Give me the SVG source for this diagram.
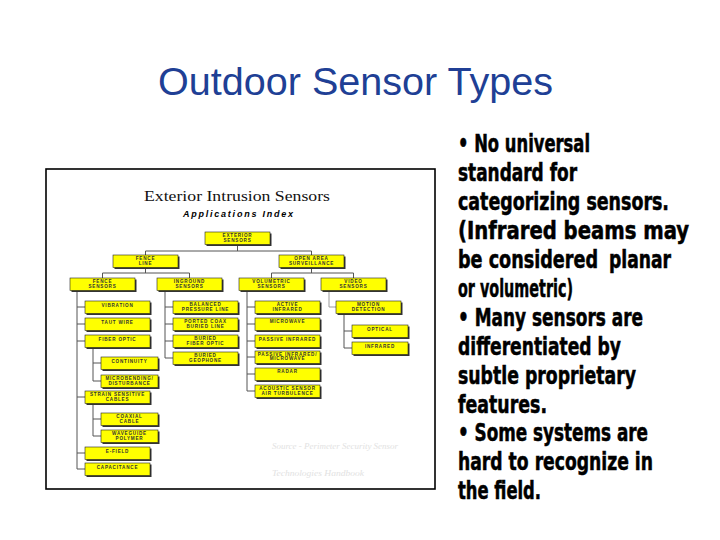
<svg xmlns="http://www.w3.org/2000/svg" width="720" height="540" viewBox="0 0 720 540">
<style>
.title{font-family:"Liberation Sans",Arial,sans-serif;font-size:38px;fill:#203F95}
.body{font-family:"Liberation Sans Narrow","DejaVu Sans Condensed","Liberation Sans",sans-serif;font-weight:bold;font-size:24px;fill:#000;stroke:#000;stroke-width:0.5}
.frame{fill:#fff;stroke:#000;stroke-width:1.6}
.bx{fill:#FFFF00;stroke:#222;stroke-width:0.6}
.sh{fill:#333}
.nt{font-family:"Liberation Sans",Arial,sans-serif;font-weight:bold;font-size:4.6px;letter-spacing:0.8px;fill:#333;text-anchor:middle}
.cn{fill:none;stroke:#555;stroke-width:1}
.cl{fill:none;stroke:#999;stroke-width:1}
.src{font-family:"Liberation Serif","Times New Roman",serif;font-style:italic;font-size:9px;fill:#e2e2e2}
</style>
<rect width="720" height="540" fill="#fff"/>
<text class="title" x="158" y="95" textLength="395" lengthAdjust="spacingAndGlyphs">Outdoor Sensor Types</text>

<g id="bullets">
<text class="body" x="458" y="152" textLength="132" lengthAdjust="spacingAndGlyphs">• No universal</text>
<text class="body" x="458" y="181" textLength="119" lengthAdjust="spacingAndGlyphs">standard for</text>
<text class="body" x="458" y="210" textLength="211" lengthAdjust="spacingAndGlyphs">categorizing sensors.</text>
<text class="body" x="458" y="239" textLength="231" lengthAdjust="spacingAndGlyphs">(Infrared beams may</text>
<text class="body" x="458" y="268" textLength="140" lengthAdjust="spacingAndGlyphs">be considered</text>
<text class="body" x="609" y="268" textLength="62" lengthAdjust="spacingAndGlyphs">planar</text>
<text class="body" x="458" y="297" textLength="115" lengthAdjust="spacingAndGlyphs">or volumetric)</text>
<text class="body" x="458" y="326" textLength="185" lengthAdjust="spacingAndGlyphs">• Many sensors are</text>
<text class="body" x="458" y="355" textLength="163" lengthAdjust="spacingAndGlyphs">differentiated by</text>
<text class="body" x="458" y="384" textLength="178" lengthAdjust="spacingAndGlyphs">subtle proprietary</text>
<text class="body" x="458" y="413" textLength="89" lengthAdjust="spacingAndGlyphs">features.</text>
<text class="body" x="458" y="441" textLength="190" lengthAdjust="spacingAndGlyphs">• Some systems are</text>
<text class="body" x="458" y="470" textLength="195" lengthAdjust="spacingAndGlyphs">hard to recognize in</text>
<text class="body" x="458" y="499" textLength="83" lengthAdjust="spacingAndGlyphs">the field.</text>
</g>

<rect class="frame" x="46" y="169" width="389" height="320"/>
<text x="144" y="201" font-family="Liberation Serif,Times New Roman,serif" font-size="15.5" fill="#111" textLength="186" lengthAdjust="spacingAndGlyphs">Exterior Intrusion Sensors</text>
<text x="183" y="217" font-family="Liberation Sans,Arial,sans-serif" font-size="9" font-weight="bold" font-style="italic" fill="#000" textLength="110" lengthAdjust="spacing">Applications Index</text>
<text class="src" x="272" y="449" textLength="126" lengthAdjust="spacingAndGlyphs">Source - Perimeter Security Sensor</text>
<text class="src" x="272" y="476" textLength="92" lengthAdjust="spacingAndGlyphs">Technologies Handbook</text>

<g id="connectors">
<path class="cn" d="M237.5 245V251M145.5 251H311.5M145.5 251V255M311.5 251V255"/>
<path class="cn" d="M145.5 267.5V273M102.5 273H189.5M102.5 273V278M189.5 273V278"/>
<path class="cn" d="M311.5 267.5V273M271.5 273H353.5M271.5 273V278M353.5 273V278"/>
<path class="cn" d="M77 290.5V469M77 307H85M77 324H85M77 341H85M77 397H85M77 453H85M77 469H85"/>
<path class="cn" d="M93 347.5V381M93 363H101M93 381H101"/>
<path class="cn" d="M93 403.5V436M93 419H101M93 436H101"/>
<path class="cn" d="M165 290.5V358M165 307H173M165 324H173M165 341H173M165 358H173"/>
<path class="cn" d="M247 290.5V391M247 307H255M247 324H255M247 341H255M247 357H255M247 374H255M247 391H255"/>
<path class="cl" d="M329 290.5V307H336"/>
<path class="cn" d="M344 313.5V348M344 331H352M344 348H352"/>
</g>

<g id="n-exterior"><rect class="sh" x="206.5" y="233.5" width="65" height="12.5"/><rect class="bx" x="205" y="232" width="65" height="12.5"/><text class="nt" x="237.5" y="237.4">EXTERIOR</text><text class="nt" x="237.5" y="242.4">SENSORS</text></g>
<g id="n-fenceline"><rect class="sh" x="114.5" y="256.5" width="65" height="12.5"/><rect class="bx" x="113" y="255" width="65" height="12.5"/><text class="nt" x="145.5" y="260.4">FENCE</text><text class="nt" x="145.5" y="265.4">LINE</text></g>
<g id="n-openarea"><rect class="sh" x="280.5" y="256.5" width="65" height="12.5"/><rect class="bx" x="279" y="255" width="65" height="12.5"/><text class="nt" x="311.5" y="260.4">OPEN AREA</text><text class="nt" x="311.5" y="265.4">SURVEILLANCE</text></g>
<g id="n-fencesensors"><rect class="sh" x="71.5" y="279.5" width="65" height="12.5"/><rect class="bx" x="70" y="278" width="65" height="12.5"/><text class="nt" x="102.5" y="283.4">FENCE</text><text class="nt" x="102.5" y="288.4">SENSORS</text></g>
<g id="n-inground"><rect class="sh" x="158.5" y="279.5" width="65" height="12.5"/><rect class="bx" x="157" y="278" width="65" height="12.5"/><text class="nt" x="189.5" y="283.4">INGROUND</text><text class="nt" x="189.5" y="288.4">SENSORS</text></g>
<g id="n-volumetric"><rect class="sh" x="240.5" y="279.5" width="65" height="12.5"/><rect class="bx" x="239" y="278" width="65" height="12.5"/><text class="nt" x="271.5" y="283.4">VOLUMETRIC</text><text class="nt" x="271.5" y="288.4">SENSORS</text></g>
<g id="n-video"><rect class="sh" x="322.5" y="279.5" width="65" height="12.5"/><rect class="bx" x="321" y="278" width="65" height="12.5"/><text class="nt" x="353.5" y="283.4">VIDEO</text><text class="nt" x="353.5" y="288.4">SENSORS</text></g>

<g id="n-vibration"><rect class="sh" x="86.5" y="302.5" width="65" height="12.5"/><rect class="bx" x="85" y="301" width="65" height="12.5"/><text class="nt" x="117.5" y="306.6">VIBRATION</text></g>
<g id="n-tautwire"><rect class="sh" x="86.5" y="319.5" width="65" height="12.5"/><rect class="bx" x="85" y="318" width="65" height="12.5"/><text class="nt" x="117.5" y="323.6">TAUT WIRE</text></g>
<g id="n-fiberoptic"><rect class="sh" x="86.5" y="336.5" width="65" height="12.5"/><rect class="bx" x="85" y="335" width="65" height="12.5"/><text class="nt" x="117.5" y="340.6">FIBER OPTIC</text></g>
<g id="n-continuity"><rect class="sh" x="102.5" y="358.5" width="57" height="12.5"/><rect class="bx" x="101" y="357" width="57" height="12.5"/><text class="nt" x="129.5" y="362.8">CONTINUITY</text></g>
<g id="n-microbending"><rect class="sh" x="102.5" y="376.5" width="57" height="12.5"/><rect class="bx" x="101" y="375" width="57" height="12.5"/><text class="nt" x="129.5" y="380.4">MICROBENDING/</text><text class="nt" x="129.5" y="385.4">DISTURBANCE</text></g>
<g id="n-strain"><rect class="sh" x="86.5" y="392.5" width="65" height="12.5"/><rect class="bx" x="85" y="391" width="65" height="12.5"/><text class="nt" x="117.5" y="396.4">STRAIN SENSITIVE</text><text class="nt" x="117.5" y="401.4">CABLES</text></g>
<g id="n-coaxial"><rect class="sh" x="102.5" y="414.5" width="57" height="12.5"/><rect class="bx" x="101" y="413" width="57" height="12.5"/><text class="nt" x="129.5" y="418.4">COAXIAL</text><text class="nt" x="129.5" y="423.4">CABLE</text></g>
<g id="n-waveguide"><rect class="sh" x="102.5" y="431.5" width="57" height="12.5"/><rect class="bx" x="101" y="430" width="57" height="12.5"/><text class="nt" x="129.5" y="435.4">WAVEGUIDE</text><text class="nt" x="129.5" y="440.4">POLYMER</text></g>
<g id="n-efield"><rect class="sh" x="86.5" y="448.5" width="65" height="12.5"/><rect class="bx" x="85" y="447" width="65" height="12.5"/><text class="nt" x="117.5" y="452.6">E-FIELD</text></g>
<g id="n-capacitance"><rect class="sh" x="86.5" y="464.5" width="65" height="12.5"/><rect class="bx" x="85" y="463" width="65" height="12.5"/><text class="nt" x="117.5" y="468.6">CAPACITANCE</text></g>

<g id="n-balanced"><rect class="sh" x="174.5" y="302.5" width="65" height="12.5"/><rect class="bx" x="173" y="301" width="65" height="12.5"/><text class="nt" x="205.5" y="306.4">BALANCED</text><text class="nt" x="205.5" y="311.4">PRESSURE LINE</text></g>
<g id="n-portedcoax"><rect class="sh" x="174.5" y="319.5" width="65" height="12.5"/><rect class="bx" x="173" y="318" width="65" height="12.5"/><text class="nt" x="205.5" y="323.4">PORTED COAX</text><text class="nt" x="205.5" y="328.4">BURIED LINE</text></g>
<g id="n-buriedfiber"><rect class="sh" x="174.5" y="336.5" width="65" height="12.5"/><rect class="bx" x="173" y="335" width="65" height="12.5"/><text class="nt" x="205.5" y="340.4">BURIED</text><text class="nt" x="205.5" y="345.4">FIBER OPTIC</text></g>
<g id="n-geophone"><rect class="sh" x="174.5" y="353.5" width="65" height="12.5"/><rect class="bx" x="173" y="352" width="65" height="12.5"/><text class="nt" x="205.5" y="357.4">BURIED</text><text class="nt" x="205.5" y="362.4">GEOPHONE</text></g>

<g id="n-activeir"><rect class="sh" x="256.5" y="302.5" width="65" height="12.5"/><rect class="bx" x="255" y="301" width="65" height="12.5"/><text class="nt" x="287.5" y="306.4">ACTIVE</text><text class="nt" x="287.5" y="311.4">INFRARED</text></g>
<g id="n-microwave"><rect class="sh" x="256.5" y="319.5" width="65" height="12.5"/><rect class="bx" x="255" y="318" width="65" height="12.5"/><text class="nt" x="287.5" y="323.4">MICROWAVE</text></g>
<g id="n-passiveir"><rect class="sh" x="256.5" y="336.5" width="65" height="12.5"/><rect class="bx" x="255" y="335" width="65" height="12.5"/><text class="nt" x="287.5" y="340.8">PASSIVE INFRARED</text></g>
<g id="n-pirmw"><rect class="sh" x="256.5" y="352.5" width="65" height="12.5"/><rect class="bx" x="255" y="351" width="65" height="12.5"/><text class="nt" x="287.5" y="355.6">PASSIVE INFRARED/</text><text class="nt" x="287.5" y="359.8">MICROWAVE</text></g>
<g id="n-radar"><rect class="sh" x="256.5" y="369.5" width="65" height="12.5"/><rect class="bx" x="255" y="368" width="65" height="12.5"/><text class="nt" x="287.5" y="373.2">RADAR</text></g>
<g id="n-acoustic"><rect class="sh" x="256.5" y="386.5" width="65" height="12.5"/><rect class="bx" x="255" y="385" width="65" height="12.5"/><text class="nt" x="287.5" y="390.4">ACOUSTIC SENSOR</text><text class="nt" x="287.5" y="395.4">AIR TURBULENCE</text></g>

<g id="n-motion"><rect class="sh" x="337.5" y="302.5" width="65" height="12.5"/><rect class="bx" x="336" y="301" width="65" height="12.5"/><text class="nt" x="368.5" y="306.4">MOTION</text><text class="nt" x="368.5" y="311.4">DETECTION</text></g>
<g id="n-optical"><rect class="sh" x="353.5" y="326.5" width="56" height="12.5"/><rect class="bx" x="352" y="325" width="56" height="12.5"/><text class="nt" x="380" y="330.6">OPTICAL</text></g>
<g id="n-infrared"><rect class="sh" x="353.5" y="343.5" width="56" height="12.5"/><rect class="bx" x="352" y="342" width="56" height="12.5"/><text class="nt" x="380" y="347.6">INFRARED</text></g>
</svg>
